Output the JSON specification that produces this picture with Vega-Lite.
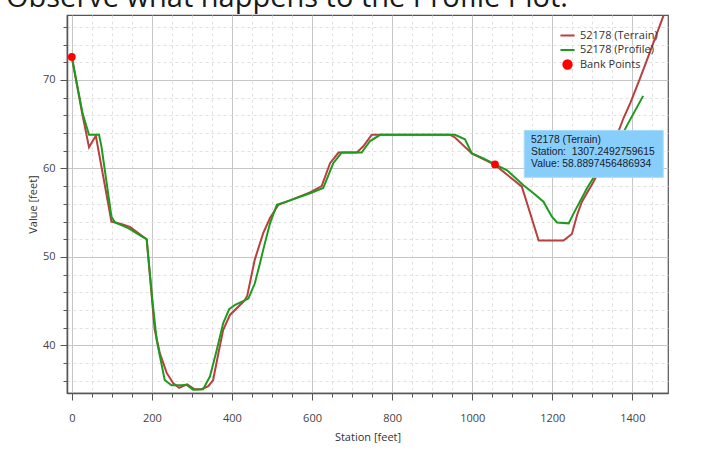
{
  "$schema": "https://vega.github.io/schema/vega-lite/v6.json",
  "width": 601,
  "height": 378,
  "autosize": {"type": "none"},
  "padding": {"left": 67, "top": 15, "right": 33, "bottom": 56},
  "background": "white",
  "title": {
    "text": "Observe what happens to the Profile Plot.",
    "anchor": "start",
    "frame": "group",
    "font": "Open Sans",
    "fontSize": 29,
    "fontWeight": "normal",
    "color": "#1a1a1a",
    "baseline": "alphabetic",
    "offset": -21,
    "dx": -61
  },
  "config": {
    "view": {"stroke": "#555555", "strokeWidth": 1.2},
    "axis": {
      "domainColor": "#555555",
      "domainWidth": 1.5,
      "tickColor": "#555555",
      "tickWidth": 1,
      "labelFont": "Open Sans",
      "labelFontSize": 11,
      "labelColor": "#444444",
      "titleFont": "Open Sans",
      "titleFontSize": 11,
      "titleFontWeight": "normal",
      "titleColor": "#333333",
      "labelOverlap": false,
      "labelFlush": false,
      "grid": true,
      "gridWidth": 1,
      "tickCount": 200
    },
    "legend": {
      "orient": "none",
      "legendX": 492,
      "legendY": 12,
      "title": null,
      "labelFont": "Open Sans",
      "labelFontSize": 11,
      "labelColor": "#333333",
      "symbolSize": 200,
      "symbolStrokeWidth": 2,
      "rowPadding": 0.5,
      "labelOffset": 4,
      "padding": 0
    }
  },
  "datasets": {
    "lines": [
      {"series": "52178 (Terrain)", "ord": 1, "station": 0, "value": 72.6},
      {"series": "52178 (Terrain)", "ord": 2, "station": 26, "value": 66.2},
      {"series": "52178 (Terrain)", "ord": 3, "station": 43, "value": 62.4},
      {"series": "52178 (Terrain)", "ord": 4, "station": 60, "value": 63.7},
      {"series": "52178 (Terrain)", "ord": 5, "station": 99, "value": 54.0},
      {"series": "52178 (Terrain)", "ord": 6, "station": 109, "value": 53.9},
      {"series": "52178 (Terrain)", "ord": 7, "station": 125, "value": 53.7},
      {"series": "52178 (Terrain)", "ord": 8, "station": 145, "value": 53.4},
      {"series": "52178 (Terrain)", "ord": 9, "station": 187, "value": 52.0},
      {"series": "52178 (Terrain)", "ord": 10, "station": 207, "value": 41.8},
      {"series": "52178 (Terrain)", "ord": 11, "station": 220, "value": 39.1},
      {"series": "52178 (Terrain)", "ord": 12, "station": 237, "value": 36.9},
      {"series": "52178 (Terrain)", "ord": 13, "station": 253, "value": 35.75},
      {"series": "52178 (Terrain)", "ord": 14, "station": 268, "value": 35.2},
      {"series": "52178 (Terrain)", "ord": 15, "station": 288, "value": 35.6},
      {"series": "52178 (Terrain)", "ord": 16, "station": 307, "value": 35.05},
      {"series": "52178 (Terrain)", "ord": 17, "station": 324, "value": 35.05},
      {"series": "52178 (Terrain)", "ord": 18, "station": 341, "value": 35.4},
      {"series": "52178 (Terrain)", "ord": 19, "station": 353, "value": 36.1},
      {"series": "52178 (Terrain)", "ord": 20, "station": 366, "value": 39.1},
      {"series": "52178 (Terrain)", "ord": 21, "station": 378, "value": 41.75},
      {"series": "52178 (Terrain)", "ord": 22, "station": 395, "value": 43.45},
      {"series": "52178 (Terrain)", "ord": 23, "station": 432, "value": 45.1},
      {"series": "52178 (Terrain)", "ord": 24, "station": 438, "value": 45.6},
      {"series": "52178 (Terrain)", "ord": 25, "station": 457, "value": 49.7},
      {"series": "52178 (Terrain)", "ord": 26, "station": 478, "value": 52.7},
      {"series": "52178 (Terrain)", "ord": 27, "station": 495, "value": 54.4},
      {"series": "52178 (Terrain)", "ord": 28, "station": 516, "value": 55.9},
      {"series": "52178 (Terrain)", "ord": 29, "station": 545, "value": 56.4},
      {"series": "52178 (Terrain)", "ord": 30, "station": 595, "value": 57.3},
      {"series": "52178 (Terrain)", "ord": 31, "station": 624, "value": 58.0},
      {"series": "52178 (Terrain)", "ord": 32, "station": 645, "value": 60.6},
      {"series": "52178 (Terrain)", "ord": 33, "station": 666, "value": 61.8},
      {"series": "52178 (Terrain)", "ord": 34, "station": 712, "value": 61.8},
      {"series": "52178 (Terrain)", "ord": 35, "station": 728, "value": 62.5},
      {"series": "52178 (Terrain)", "ord": 36, "station": 749, "value": 63.8},
      {"series": "52178 (Terrain)", "ord": 37, "station": 945, "value": 63.8},
      {"series": "52178 (Terrain)", "ord": 38, "station": 957, "value": 63.5},
      {"series": "52178 (Terrain)", "ord": 39, "station": 999, "value": 61.7},
      {"series": "52178 (Terrain)", "ord": 40, "station": 1057, "value": 60.4},
      {"series": "52178 (Terrain)", "ord": 41, "station": 1124, "value": 57.95},
      {"series": "52178 (Terrain)", "ord": 42, "station": 1166, "value": 51.85},
      {"series": "52178 (Terrain)", "ord": 43, "station": 1228, "value": 51.85},
      {"series": "52178 (Terrain)", "ord": 44, "station": 1249, "value": 52.6},
      {"series": "52178 (Terrain)", "ord": 45, "station": 1262, "value": 54.75},
      {"series": "52178 (Terrain)", "ord": 46, "station": 1274, "value": 56.25},
      {"series": "52178 (Terrain)", "ord": 47, "station": 1303, "value": 58.5},
      {"series": "52178 (Terrain)", "ord": 48, "station": 1362, "value": 63.8},
      {"series": "52178 (Terrain)", "ord": 49, "station": 1378, "value": 65.7},
      {"series": "52178 (Terrain)", "ord": 50, "station": 1395, "value": 67.4},
      {"series": "52178 (Terrain)", "ord": 51, "station": 1416, "value": 69.8},
      {"series": "52178 (Terrain)", "ord": 52, "station": 1438, "value": 72.45},
      {"series": "52178 (Terrain)", "ord": 53, "station": 1478, "value": 77.3},
      {"series": "52178 (Profile)", "ord": 1, "station": 0, "value": 72.6},
      {"series": "52178 (Profile)", "ord": 2, "station": 27, "value": 66.2},
      {"series": "52178 (Profile)", "ord": 3, "station": 43, "value": 63.8},
      {"series": "52178 (Profile)", "ord": 4, "station": 68, "value": 63.8},
      {"series": "52178 (Profile)", "ord": 5, "station": 74, "value": 62.5},
      {"series": "52178 (Profile)", "ord": 6, "station": 99, "value": 54.55},
      {"series": "52178 (Profile)", "ord": 7, "station": 108, "value": 53.9},
      {"series": "52178 (Profile)", "ord": 8, "station": 141, "value": 53.25},
      {"series": "52178 (Profile)", "ord": 9, "station": 187, "value": 52.0},
      {"series": "52178 (Profile)", "ord": 10, "station": 202, "value": 44.8},
      {"series": "52178 (Profile)", "ord": 11, "station": 212, "value": 40.6},
      {"series": "52178 (Profile)", "ord": 12, "station": 232, "value": 36.1},
      {"series": "52178 (Profile)", "ord": 13, "station": 249, "value": 35.5},
      {"series": "52178 (Profile)", "ord": 14, "station": 274, "value": 35.5},
      {"series": "52178 (Profile)", "ord": 15, "station": 287, "value": 35.55},
      {"series": "52178 (Profile)", "ord": 16, "station": 303, "value": 35.0},
      {"series": "52178 (Profile)", "ord": 17, "station": 328, "value": 35.05},
      {"series": "52178 (Profile)", "ord": 18, "station": 345, "value": 36.5},
      {"series": "52178 (Profile)", "ord": 19, "station": 362, "value": 39.5},
      {"series": "52178 (Profile)", "ord": 20, "station": 378, "value": 42.5},
      {"series": "52178 (Profile)", "ord": 21, "station": 393, "value": 44.1},
      {"series": "52178 (Profile)", "ord": 22, "station": 408, "value": 44.6},
      {"series": "52178 (Profile)", "ord": 23, "station": 441, "value": 45.3},
      {"series": "52178 (Profile)", "ord": 24, "station": 457, "value": 47.0},
      {"series": "52178 (Profile)", "ord": 25, "station": 470, "value": 49.3},
      {"series": "52178 (Profile)", "ord": 26, "station": 478, "value": 50.8},
      {"series": "52178 (Profile)", "ord": 27, "station": 495, "value": 53.8},
      {"series": "52178 (Profile)", "ord": 28, "station": 512, "value": 55.9},
      {"series": "52178 (Profile)", "ord": 29, "station": 545, "value": 56.4},
      {"series": "52178 (Profile)", "ord": 30, "station": 595, "value": 57.2},
      {"series": "52178 (Profile)", "ord": 31, "station": 628, "value": 57.8},
      {"series": "52178 (Profile)", "ord": 32, "station": 653, "value": 60.6},
      {"series": "52178 (Profile)", "ord": 33, "station": 674, "value": 61.8},
      {"series": "52178 (Profile)", "ord": 34, "station": 724, "value": 61.8},
      {"series": "52178 (Profile)", "ord": 35, "station": 745, "value": 63.1},
      {"series": "52178 (Profile)", "ord": 36, "station": 770, "value": 63.8},
      {"series": "52178 (Profile)", "ord": 37, "station": 957, "value": 63.8},
      {"series": "52178 (Profile)", "ord": 38, "station": 982, "value": 63.3},
      {"series": "52178 (Profile)", "ord": 39, "station": 999, "value": 61.7},
      {"series": "52178 (Profile)", "ord": 40, "station": 1028, "value": 61.15},
      {"series": "52178 (Profile)", "ord": 41, "station": 1087, "value": 59.8},
      {"series": "52178 (Profile)", "ord": 42, "station": 1128, "value": 58.1},
      {"series": "52178 (Profile)", "ord": 43, "station": 1153, "value": 57.2},
      {"series": "52178 (Profile)", "ord": 44, "station": 1178, "value": 56.25},
      {"series": "52178 (Profile)", "ord": 45, "station": 1199, "value": 54.55},
      {"series": "52178 (Profile)", "ord": 46, "station": 1212, "value": 53.9},
      {"series": "52178 (Profile)", "ord": 47, "station": 1241, "value": 53.8},
      {"series": "52178 (Profile)", "ord": 48, "station": 1253, "value": 54.9},
      {"series": "52178 (Profile)", "ord": 49, "station": 1287, "value": 57.8},
      {"series": "52178 (Profile)", "ord": 50, "station": 1328, "value": 60.8},
      {"series": "52178 (Profile)", "ord": 51, "station": 1370, "value": 63.4},
      {"series": "52178 (Profile)", "ord": 52, "station": 1387, "value": 64.9},
      {"series": "52178 (Profile)", "ord": 53, "station": 1427, "value": 68.2}
    ],
    "banks": [
      {"series": "Bank Points", "station": 0, "value": 72.6},
      {"series": "Bank Points", "station": 1057, "value": 60.45}
    ],
    "tipbox": [
      {"x1": 1130, "x2": 1477, "y1": 64.3, "y2": 59.0}
    ],
    "tiptext": [
      {"station": 1147, "value": 63.22, "text": "52178 (Terrain)"},
      {"station": 1147, "value": 61.86, "text": "Station:\u00a0 1307.2492759615"},
      {"station": 1147, "value": 60.56, "text": "Value: 58.8897456486934"}
    ]
  },
  "layer": [
    {
      "data": {"name": "lines"},
      "mark": {"type": "line", "strokeWidth": 2, "clip": true},
      "encoding": {
        "x": {
          "field": "station",
          "type": "quantitative",
          "scale": {"domain": [-12, 1489], "nice": false, "zero": false},
          "axis": {
            "title": "Station [feet]",
            "format": "d",
            "tickCount": 200,
            "values": [0, 50, 100, 150, 200, 250, 300, 350, 400, 450, 500, 550, 600, 650, 700, 750, 800, 850, 900, 950, 1000, 1050, 1100, 1150, 1200, 1250, 1300, 1350, 1400, 1450],
            "labelExpr": "datum.value % 200 === 0 ? datum.label : ''",
            "tickSize": {"condition": {"test": "datum.value % 200 === 0", "value": 7}, "value": 4},
            "gridDash": {"condition": {"test": "datum.value % 200 === 0", "value": []}, "value": [3, 3]},
            "gridColor": {"condition": {"test": "datum.value % 200 === 0", "value": "#c6c6c6"}, "value": "#e0e0e0"},
            "labelPadding": 12,
            "titlePadding": 8
          }
        },
        "y": {
          "field": "value",
          "type": "quantitative",
          "scale": {"domain": [34.63, 77.34], "nice": false, "zero": false},
          "axis": {
            "title": "Value [feet]",
            "format": "d",
            "tickCount": 200,
            "values": [36, 38, 40, 42, 44, 46, 48, 50, 52, 54, 56, 58, 60, 62, 64, 66, 68, 70, 72, 74, 76],
            "labelExpr": "datum.value % 10 === 0 ? datum.label : ''",
            "tickSize": {"condition": {"test": "datum.value % 10 === 0", "value": 7}, "value": 4},
            "gridDash": {"condition": {"test": "datum.value % 10 === 0", "value": []}, "value": [3, 3]},
            "gridColor": {"condition": {"test": "datum.value % 10 === 0", "value": "#c6c6c6"}, "value": "#e0e0e0"},
            "labelPadding": 5,
            "titlePadding": 4
          }
        },
        "color": {
          "field": "series",
          "type": "nominal",
          "scale": {
            "domain": ["52178 (Terrain)", "52178 (Profile)", "Bank Points"],
            "range": ["#b8403e", "#1e9a1e", "#ff0000"]
          },
          "legend": {
            "encode": {
              "symbols": {
                "update": {
                  "shape": {"signal": "datum.value === 'Bank Points' ? 'circle' : 'stroke'"},
                  "size": {"signal": "datum.value === 'Bank Points' ? 70 : 200"},
                  "fill": {"signal": "datum.value === 'Bank Points' ? '#ff0000' : 'transparent'"},
                  "stroke": {"signal": "datum.value === 'Bank Points' ? 'transparent' : (datum.value === '52178 (Terrain)' ? '#b8403e' : '#1e9a1e')"},
                  "strokeWidth": {"value": 2},
                  "opacity": {"value": 1}
                }
              }
            }
          }
        },
        "order": {"field": "ord", "type": "quantitative"}
      }
    },
    {
      "data": {"name": "banks"},
      "mark": {"type": "point", "filled": true, "size": 60, "opacity": 1},
      "encoding": {
        "x": {"field": "station", "type": "quantitative"},
        "y": {"field": "value", "type": "quantitative"},
        "color": {"field": "series", "type": "nominal"}
      }
    },
    {
      "data": {"name": "tipbox"},
      "mark": {"type": "rect", "color": "#87cefa", "stroke": "#a6dafb", "strokeWidth": 1, "opacity": 1},
      "encoding": {
        "x": {"field": "x1", "type": "quantitative"},
        "x2": {"field": "x2"},
        "y": {"field": "y1", "type": "quantitative"},
        "y2": {"field": "y2"}
      }
    },
    {
      "data": {"name": "tiptext"},
      "mark": {"type": "text", "align": "left", "baseline": "middle", "font": "Liberation Sans", "fontSize": 10.3, "color": "#1a1a2e"},
      "encoding": {
        "x": {"field": "station", "type": "quantitative"},
        "y": {"field": "value", "type": "quantitative"},
        "text": {"field": "text"}
      }
    }
  ]
}
